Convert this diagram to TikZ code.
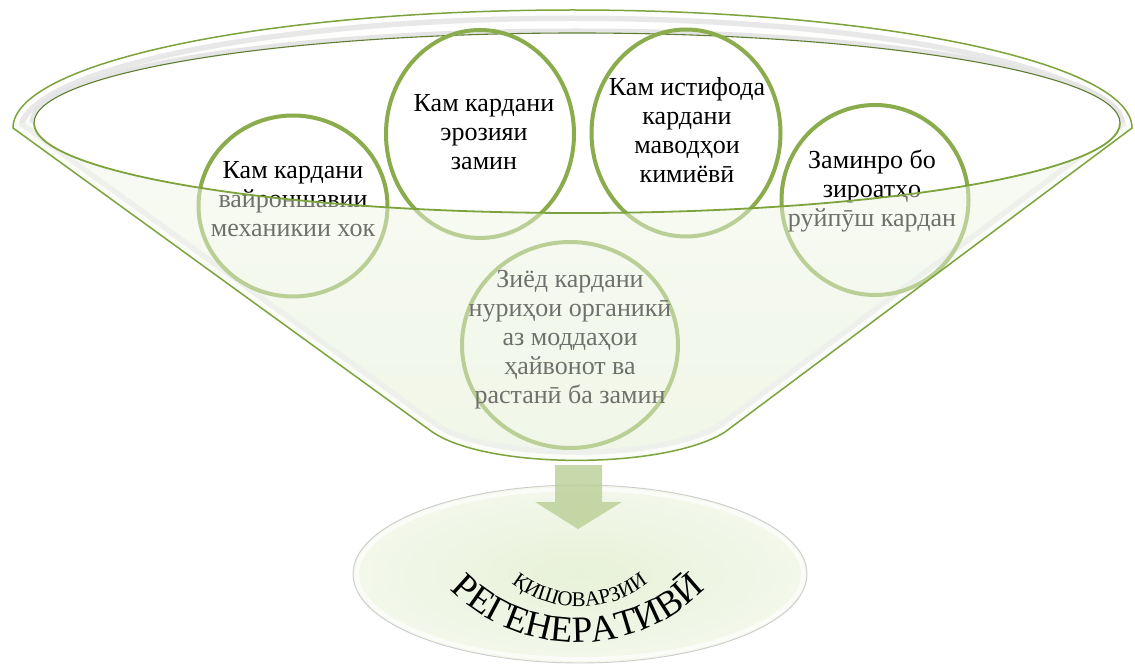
\documentclass[tikz,border=0pt]{standalone}
\usepackage{fontspec}
\setmainfont{Liberation Serif}
\usetikzlibrary{shapes.geometric,decorations.text}
\definecolor{ringc}{RGB}{138,172,76}
\definecolor{rimgreen}{RGB}{125,163,60}
\definecolor{rimdark}{RGB}{95,125,50}
\definecolor{bodyg}{RGB}{236,244,224}
\definecolor{arrowg}{RGB}{181,204,143}
\definecolor{ellg}{RGB}{232,241,217}
\definecolor{ellg2}{RGB}{243,248,235}
\newcommand\circfont{\fontsize{26}{29}\selectfont}
\newcommand\bigarcfont{\fontsize{37}{37}\selectfont}
\newcommand\smallarcfont{\fontsize{21}{21}\selectfont}
\begin{document}
\begin{tikzpicture}[x=1pt,y=-1pt,
  ringnode/.style={draw=ringc, line width=4pt, ellipse, inner sep=0pt},
  circtext/.style={font=\circfont, align=center, text=black, inner sep=0pt},
  funnelline/.style={draw=rimgreen, line width=1.5pt},
]
\useasboundingbox (0,0) rectangle (1135,666);
\fill[white] (0,0) rectangle (1135,666);

% ---- result ellipse
\node[ellipse, inner color=ellg, outer color=ellg2, minimum width=454pt, minimum height=178pt, inner sep=0pt] (result) at (580,574) {};
\draw[white, line width=4pt, opacity=0.7] (580,574) ellipse [x radius=223pt, y radius=85pt];
\draw[black!20, line width=0.9pt] (result.center) ellipse [x radius=227pt, y radius=89pt];

% ---- arrow
\coordinate (spout) at (578,462);
\fill[arrowg, opacity=0.75] (555,465) -- (602,465) -- (602,502) -- (622,502) -- (578,529) -- (535,502) -- (555,502) -- cycle;

% ---- arc texts
\path[decorate, decoration={text along path, text align=center, text={|\bigarcfont|РЕГЕНЕРАТИВӢ}}] (440,578) arc[start angle=220, end angle=320, radius=180pt];
\path[decorate, decoration={text along path, text align=center, text={|\smallarcfont|ҚИШОВАРЗИИ}}] (509,581) arc[start angle=230, end angle=310, radius=110pt];

% ---- funnel body
\shade[top color=white, bottom color=bodyg] (13,128) arc[start angle=180,end angle=0,x radius=559.5pt,y radius=118pt] -- (725,432) .. controls (665,470) and (485,470) .. (431,431) -- cycle;
\begin{scope}
  \clip (13,128) arc[start angle=180,end angle=0,x radius=559.5pt,y radius=118pt] -- (725,432) .. controls (665,470) and (485,470) .. (431,431) -- cycle;
  \draw[line width=22pt, black!9] (13,128) arc[start angle=180,end angle=0,x radius=559.5pt,y radius=118pt] -- (725,432) .. controls (665,470) and (485,470) .. (431,431) -- cycle;
  \draw[line width=11pt, white] (13,128) arc[start angle=180,end angle=0,x radius=559.5pt,y radius=118pt] -- (725,432) .. controls (665,470) and (485,470) .. (431,431) -- cycle;
  \draw[line width=9pt, black!10] (34,123) arc[start angle=180,end angle=0,x radius=543pt,y radius=90pt];
\end{scope}
% opening
\fill[white] (577,123) ellipse [x radius=543pt, y radius=90pt];
\draw[rimdark, line width=1.1pt] (34,123) arc[start angle=180,end angle=0,x radius=543pt,y radius=90pt];

% ---- circles
\node[ringnode, minimum width=189pt, minimum height=181pt] (c1) at (293,206) {};
\node[ringnode, minimum width=188pt, minimum height=208pt] (c2) at (480,134) {};
\node[ringnode, minimum width=189pt, minimum height=207pt] (c3) at (686,133) {};
\node[ringnode, minimum width=187pt, minimum height=190pt] (c4) at (875,200) {};
\node[ringnode, minimum width=216pt, minimum height=206pt] (c5) at (570,345) {};

\node[circtext] (t1) at (293,199) {Кам кардани\\вайроншавии\\механикии хок};
\node[circtext] (t2) at (484,132) {Кам кардани\\эрозияи\\замин};
\node[circtext] (t3) at (687,130) {Кам истифода\\кардани\\маводҳои\\кимиёвӣ};
\node[circtext] (t4) at (872,191) {Заминро бо\\зироатҳо\\руйпӯш кардан};
\node[circtext] (t5) at (570,340) {Зиёд кардани\\нуриҳои органикӣ\\аз моддаҳои\\ҳайвонот ва\\растанӣ ба замин};

% ---- front translucent surface
\begin{scope}
  \clip (13,128) arc[start angle=180,end angle=0,x radius=559.5pt,y radius=118pt] -- (725,432) .. controls (665,470) and (485,470) .. (431,431) -- cycle;
  \fill[bodyg!45!white, opacity=0.45] (34,123) arc[start angle=180,end angle=360,x radius=543pt,y radius=90pt] -- (1140,123) -- (1140,480) -- (0,480) -- (0,123) -- cycle;
\end{scope}
\draw[rimgreen, line width=1.8pt] (34,123) arc[start angle=180,end angle=360,x radius=543pt,y radius=90pt];
\draw[funnelline] (13,128) arc[start angle=180,end angle=0,x radius=559.5pt,y radius=118pt] -- (725,432) .. controls (665,470) and (485,470) .. (431,431) -- cycle;
\end{tikzpicture}
\end{document}
